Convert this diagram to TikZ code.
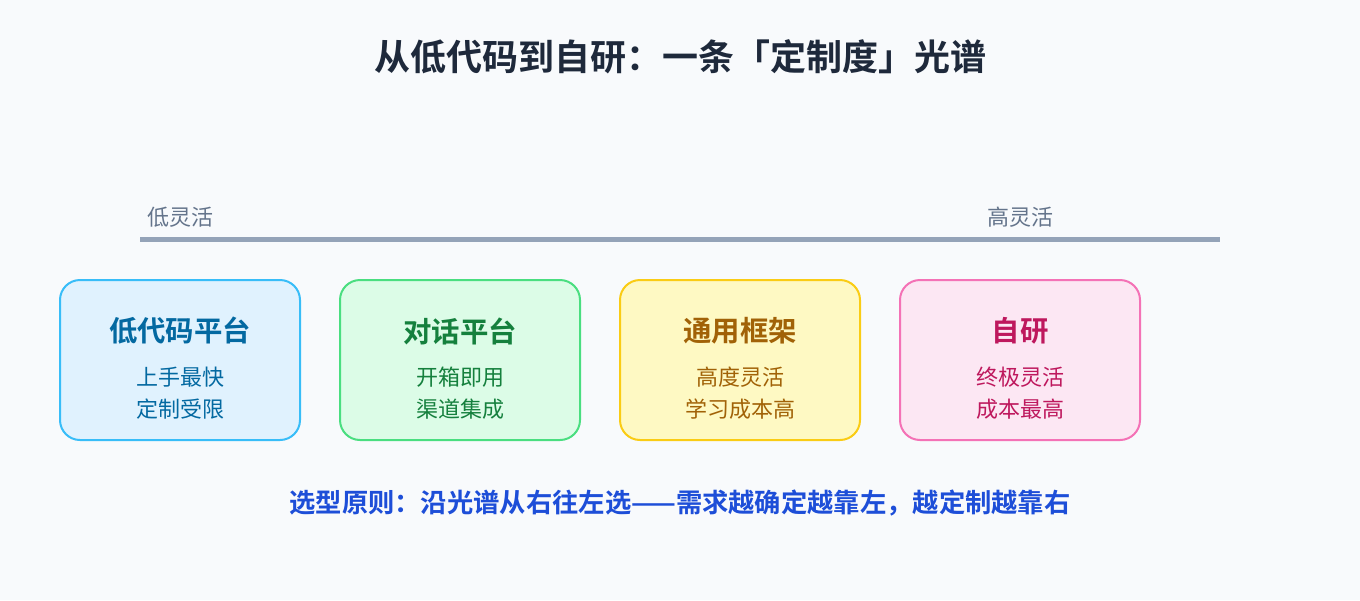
\documentclass[tikz,border=0pt]{standalone}
\usepackage{fontspec}
\setmainfont{Noto Sans CJK SC}
\newfontfamily\cjkb{Noto Sans CJK SC Bold}
\definecolor{bg}{HTML}{F8FAFC}
\definecolor{titlec}{HTML}{1E293B}
\definecolor{axisc}{HTML}{94A3B8}
\definecolor{labc}{HTML}{64748B}
\definecolor{fillA}{HTML}{E0F2FE}\definecolor{drawA}{HTML}{38BDF8}\definecolor{textA}{HTML}{0369A1}
\definecolor{fillB}{HTML}{DCFCE7}\definecolor{drawB}{HTML}{4ADE80}\definecolor{textB}{HTML}{15803D}
\definecolor{fillC}{HTML}{FEF9C3}\definecolor{drawC}{HTML}{FACC15}\definecolor{textC}{HTML}{A16207}
\definecolor{fillD}{HTML}{FCE7F3}\definecolor{drawD}{HTML}{F472B6}\definecolor{textD}{HTML}{BE185D}
\definecolor{notec}{HTML}{1D4ED8}
\tikzset{
  card/.style={draw=#1, line width=2pt, rounded corners=20pt, minimum width=240pt, minimum height=160pt, inner sep=0pt},
  cardtitle/.style={text=#1, font=\cjkb\fontsize{28.4}{32}\selectfont, inner sep=0pt},
  cardsub/.style={text=#1, font=\fontsize{22}{32}\selectfont, inner sep=0pt, align=center},
  axislab/.style={text=labc, font=\fontsize{22}{24}\selectfont, inner sep=0pt},
}
\begin{document}
\begin{tikzpicture}[x=1pt,y=-1pt]
\fill[bg] (0,0) rectangle (1360,600);
\useasboundingbox (0,0) rectangle (1360,600);
\node[text=titlec, font=\cjkb\fontsize{36}{40}\selectfont, inner sep=0pt] (title) at (680,57) {从低代码到自研：一条「定制度」光谱};
\coordinate (axL) at (140,239);
\coordinate (axR) at (1220,239);
\draw[axisc, line width=5pt] (axL) -- (axR);
\node[axislab] (low) at (180,217) {低灵活};
\node[axislab] (high) at (1020,217) {高灵活};
\node[card=drawA, fill=fillA] (c1) at (180,360) {};
\node[card=drawB, fill=fillB] (c2) at (460,360) {};
\node[card=drawC, fill=fillC] (c3) at (740,360) {};
\node[card=drawD, fill=fillD] (c4) at (1020,360) {};
\node[cardtitle=textA] (t1) at (180,331) {低代码平台};
\node[cardtitle=textB] (t2) at (460,331) {对话平台};
\node[cardtitle=textC] (t3) at (740,331) {通用框架};
\node[cardtitle=textD] (t4) at (1020,331) {自研};
\node[cardsub=textA] (s1) at (180,393) {上手最快\\定制受限};
\node[cardsub=textB] (s2) at (460,393) {开箱即用\\渠道集成};
\node[cardsub=textC] (s3) at (740,393) {高度灵活\\学习成本高};
\node[cardsub=textD] (s4) at (1020,393) {终极灵活\\成本最高};
\node[text=notec, font=\cjkb\fontsize{26.3}{30}\selectfont, inner sep=0pt] (note) at (680,503) {选型原则：沿光谱从右往左选——需求越确定越靠左，越定制越靠右};
\end{tikzpicture}
\end{document}
